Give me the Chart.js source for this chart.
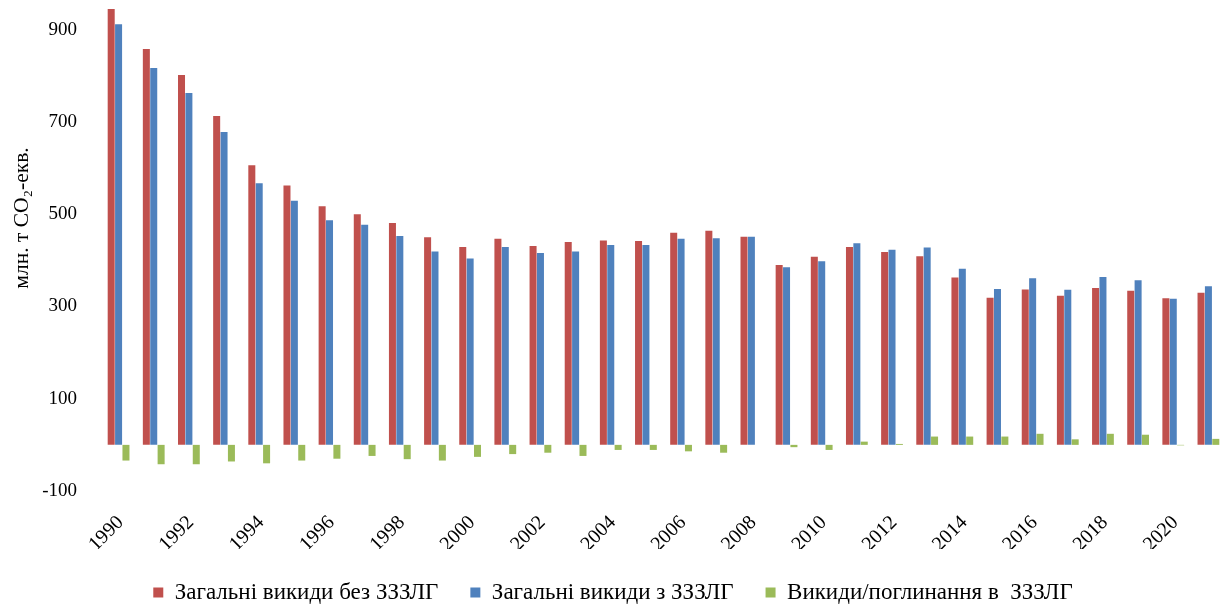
<!DOCTYPE html>
<html lang="uk">
<head>
<meta charset="utf-8">
<title>Викиди парникових газів, 1990–2021</title>
<script src="https://cdn.jsdelivr.net/npm/chart.js@4/dist/chart.umd.min.js"></script>
<style>
  html, body { margin: 0; padding: 0; background: #ffffff; overflow: hidden; }
  #wrap { width: 1226px; height: 608px; position: relative; }
</style>
</head>
<body>
<div id="wrap"><canvas id="chart"></canvas></div>
<script>
// Роки звітного періоду
const years = [
  '1990','1991','1992','1993','1994','1995','1996','1997','1998','1999',
  '2000','2001','2002','2003','2004','2005','2006','2007','2008','2009',
  '2010','2011','2012','2013','2014','2015','2016','2017','2018','2019',
  '2020','2021'
];

// Загальні викиди без ЗЗЗЛГ, млн т CO2-екв.
const totalWithoutLulucf = [
  945, 858, 802, 713, 606, 562, 517, 500, 481, 450,
  429, 447, 431, 440, 443, 442, 460, 464, 451, 390,
  408, 429, 418, 409, 363, 319, 337, 323, 340, 334,
  318, 330
];

// Загальні викиди з ЗЗЗЛГ, млн т CO2-екв.
const totalWithLulucf = [
  912, 817, 763, 678, 567, 529, 487, 477, 453, 419,
  404, 429, 416, 419, 433, 433, 447, 448, 451, 385,
  398, 437, 423, 428, 382, 338, 361, 336, 364, 357,
  317, 344
];

// Викиди/поглинання в секторі ЗЗЗЛГ, млн т CO2-екв.
const lulucfNet = [
  -34, -42, -42, -36, -40, -34, -30, -24, -31, -34,
  -26, -20, -17, -24, -11, -11, -14, -17, 0, -5,
  -11, 7, 2, 18, 18, 18, 24, 12, 24, 22,
  -1, 13
];

// Позначки вертикальної осі
const yTickValues = [-100, 100, 300, 500, 700, 900];

const serif = "'Liberation Serif', 'Times New Roman', serif";
const yAxisTitle = 'млн. т CO\u2082-екв.';

// Вертикальний підпис осі значень
const yTitlePlugin = {
  id: 'yTitle',
  afterDraw(chart) {
    const { ctx } = chart;
    ctx.save();
    ctx.translate(22, 218);
    ctx.rotate(-Math.PI / 2);
    ctx.font = '21.5px ' + serif;
    ctx.fillStyle = '#000000';
    ctx.textAlign = 'center';
    ctx.textBaseline = 'middle';
    ctx.fillText(yAxisTitle, 0, 0);
    ctx.restore();
  }
};

new Chart(document.getElementById('chart'), {
  type: 'bar',
  data: {
    labels: years,
    datasets: [
      {
        label: 'Загальні викиди без ЗЗЗЛГ',
        data: totalWithoutLulucf,
        backgroundColor: '#C0504D'
      },
      {
        label: 'Загальні викиди з ЗЗЗЛГ',
        data: totalWithLulucf,
        backgroundColor: '#4F81BD'
      },
      {
        label: 'Викиди/поглинання в  ЗЗЗЛГ',
        data: lulucfNet,
        backgroundColor: '#9BBB59'
      }
    ]
  },
  options: {
    responsive: true,
    maintainAspectRatio: false,
    animation: false,
    devicePixelRatio: 1,
    layout: { padding: { top: 2, right: 0, bottom: -6, left: 0 } },
    datasets: {
      bar: { categoryPercentage: 0.63, barPercentage: 0.95 }
    },
    scales: {
      x: {
        grid: { display: false, drawTicks: false },
        border: { display: false },
        afterFit(scale) {
          scale.height = 58;
          scale.paddingLeft = 0;
          scale.paddingRight = 0;
        },
        ticks: {
          autoSkip: false,
          minRotation: 45,
          maxRotation: 45,
          padding: 20,
          labelOffset: 2,
          color: '#000000',
          font: { family: serif, size: 20 },
          callback(value, index) {
            return index % 2 === 0 ? years[index] : '';
          }
        }
      },
      y: {
        min: -100,
        max: 960,
        grid: { display: false, drawTicks: false },
        border: { display: false },
        afterFit(scale) {
          scale.width = 101;
          scale.paddingTop = 0;
          scale.paddingBottom = 0;
        },
        afterBuildTicks(scale) {
          scale.ticks = yTickValues.map(v => ({ value: v }));
        },
        ticks: {
          padding: 24,
          color: '#000000',
          font: { family: serif, size: 19 }
        }
      }
    },
    plugins: {
      legend: {
        position: 'bottom',
        labels: {
          boxWidth: 10,
          boxHeight: 10,
          padding: 32,
          color: '#000000',
          font: { family: serif, size: 23 }
        }
      },
      tooltip: { enabled: false }
    }
  },
  plugins: [yTitlePlugin]
});
</script>
</body>
</html>
